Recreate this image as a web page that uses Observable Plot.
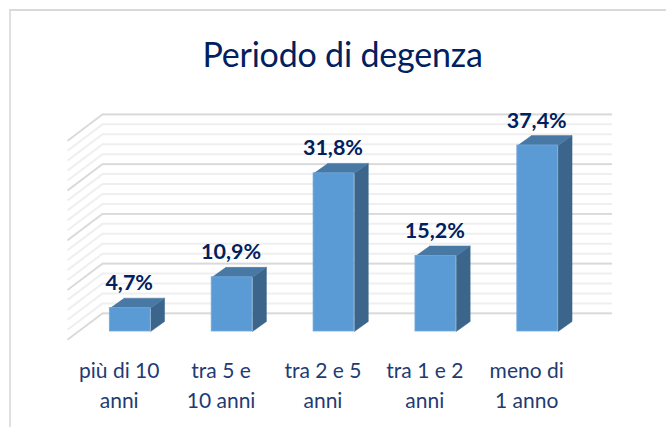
<!DOCTYPE html>
<html lang="it">
<head>
<meta charset="utf-8">
<script src="https://cdn.jsdelivr.net/npm/d3@7"></script>
<script src="https://cdn.jsdelivr.net/npm/@observablehq/plot@0.6"></script>
<style>
  html, body { margin: 0; padding: 0; background: #fff; overflow: hidden; }
  #page { position: relative; width: 666px; height: 427px; overflow: hidden; }
  #frame { position: absolute; left: 9px; top: 9px; width: 700px; height: 500px;
           border-top: 2px solid #d9d9d9; border-left: 2px solid #e0e0e0; }
  h1 { position: absolute; left: 0; width: 685px; top: 32px; margin: 0; text-align: center;
       font: 400 34px/44px Lato, sans-serif; color: #002060; letter-spacing: -0.2px; }
  svg { position: absolute; left: 0; top: 0; }
</style>
</head>
<body>
<div id="page">
  <div id="frame"></div>
  <h1>Periodo di degenza</h1>
</div>
<script>
const categories = ["più di 10\nanni", "tra 5 e\n10 anni", "tra 2 e 5\nanni", "tra 1 e 2\nanni", "meno di\n1 anno"];
const values = [4.7, 10.9, 31.8, 15.2, 37.4];
const minorTicks = d3.range(0, 41, 2);
const majorTicks = [0, 10, 20, 30, 40];

// Pseudo-3D geometry, in scale units (x: category index, y: percent)
const halfBar = 0.2, barDepthX = 0.137, barDepthY = 2.0;
const wallLeft = -0.272, wallRight = 4.735, wallRise = 3.65;
const floorLeft = -0.615, floorDrop = 5.3;

const rows = values.map((v, i) => ({i, v, label: categories[i], text: String(v).replace(".", ",") + "%"}));

const poly = (r, pts) => pts.map(([x, y]) => ({id: r.i, x, y}));
const sideFaces = rows.flatMap(r => poly(r, [
  [r.i + halfBar, 0], [r.i + halfBar + barDepthX, barDepthY],
  [r.i + halfBar + barDepthX, r.v + barDepthY], [r.i + halfBar, r.v]
]));
const topFaces = rows.flatMap(r => poly(r, [
  [r.i - halfBar, r.v], [r.i + halfBar, r.v],
  [r.i + halfBar + barDepthX, r.v + barDepthY], [r.i - halfBar + barDepthX, r.v + barDepthY]
]));

const wallMarks = (ticks, stroke, strokeWidth) => [
  Plot.ruleY(ticks, {y: d => d + wallRise, x1: wallLeft, x2: wallRight, stroke, strokeWidth}),
  Plot.link(ticks, {x1: floorLeft, x2: wallLeft, y1: d => d + wallRise - floorDrop, y2: d => d + wallRise, stroke, strokeWidth})
];

const chart = Plot.plot({
  width: 666,
  height: 427,
  marginTop: 0, marginLeft: 0, marginRight: 0, marginBottom: 96,
  x: {type: "linear", domain: [0, 4], range: [129.7, 537.2]},
  y: {type: "linear", domain: [0, 37.4], range: [331, 145], axis: null},
  style: {background: "transparent", fontFamily: "Lato, sans-serif"},
  marks: [
    ...wallMarks(minorTicks, "#efefef", 2),
    ...wallMarks(majorTicks, "#d9d9d9", 1.6),
    Plot.line(sideFaces, {x: "x", y: "y", z: "id", fill: "#3b658a", stroke: "#3b658a", strokeWidth: 0.5}),
    Plot.line(topFaces, {x: "x", y: "y", z: "id", fill: "#4878a4", stroke: "#4878a4", strokeWidth: 0.5}),
    Plot.rect(rows, {x1: d => d.i - halfBar, x2: d => d.i + halfBar, y1: 0, y2: "v", fill: "#5b9bd5", stroke: "#74a9dc", strokeWidth: 0.8}),
    Plot.text(rows, {x: "i", y: d => d.v + barDepthY, text: "text", dx: -1, lineAnchor: "bottom", dy: -8, fontSize: 21.5, fontWeight: 700, fill: "#002060"}),
    Plot.axisX({
      anchor: "bottom", ticks: rows.map(r => r.i), tickFormat: i => categories[i],
      tickSize: 0, tickPadding: 25, dx: -11, label: null, line: false,
      fontSize: 21, lineHeight: 1.43, color: "#1f3b73"
    })
  ]
});
document.getElementById("page").appendChild(chart);
</script>
</body>
</html>
